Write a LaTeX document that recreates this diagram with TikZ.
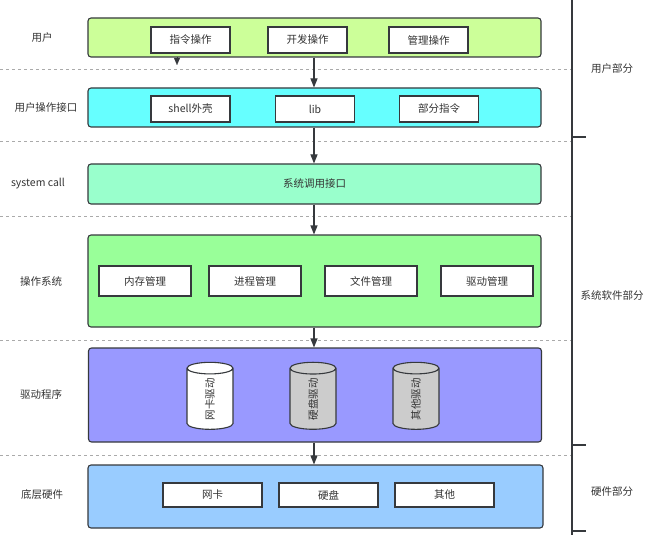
\documentclass[tikz,border=0pt]{standalone}
\usepackage{fontspec}
\setmainfont{Noto Sans CJK SC}
\usetikzlibrary{arrows.meta,shapes.geometric}
\definecolor{edge}{HTML}{36393D}
\definecolor{txt}{HTML}{333333}
\definecolor{cuser}{HTML}{CCFF99}
\definecolor{cui}{HTML}{66FFFF}
\definecolor{csys}{HTML}{99FFCC}
\definecolor{cos}{HTML}{99FF99}
\definecolor{cdrv}{HTML}{9999FF}
\definecolor{chw}{HTML}{99CCFF}
\definecolor{cgray}{HTML}{CCCCCC}
\definecolor{dash}{HTML}{AAAAAA}
\tikzset{
  fnt/.style={font=\fontsize{10.5}{12}\selectfont},
  layer/.style={draw=edge,line width=1.1pt,rounded corners=3pt,minimum width=453pt,inner sep=0pt},
  item/.style={draw=edge,line width=1.1pt,fill=white,minimum width=79pt,minimum height=26pt,inner sep=0pt,text=txt,fnt},
  lbl/.style={text=txt,fnt,inner sep=0pt},
  sep/.style={draw=dash,dashed,line width=0.7pt},
  flow/.style={draw=edge,line width=1.1pt,-{Triangle[length=9pt,width=7pt]}},
  drum/.style={cylinder,draw=edge,line width=1.1pt,shape border rotate=90,minimum width=46pt,minimum height=67pt,aspect=1.2,inner sep=0pt,text=txt,fnt},
  brace/.style={draw=edge,line width=1.1pt}
}
\begin{document}
\begin{tikzpicture}[x=1pt,y=-1pt]
\useasboundingbox (0,0) rectangle (649,535);
% separators
\foreach \yy in {69,141,216,340,455} \draw[sep] (0,\yy) -- (572,\yy);
% layers
\node[layer,fill=cuser,minimum height=39pt] (L1) at (314.5,37.5) {};
\node[layer,fill=cui,minimum height=39pt] (L2) at (314.5,107.5) {};
\node[layer,fill=csys,minimum height=40pt,text=txt,fnt] (L3) at (314.5,184) {系统调用接口};
\node[layer,fill=cos,minimum height=92pt] (L4) at (314.5,281) {};
\node[layer,fill=cdrv,minimum height=94pt] (L5) at (315,395) {};
\node[layer,fill=chw,minimum height=63pt,minimum width=455pt] (L6) at (315.5,496.5) {};
% items
\node[item] (a1) at (190.5,40) {指令操作};
\node[item] (a2) at (307.5,40) {开发操作};
\node[item] (a3) at (428.5,40) {管理操作};
\node[item] (b1) at (190.5,109) {shell外壳};
\node[item] (b2) at (315,109) {lib};
\node[item] (b3) at (439,109) {部分指令};
\node[item,minimum width=92pt,minimum height=30pt] (c1) at (145,281) {内存管理};
\node[item,minimum width=92pt,minimum height=30pt] (c2) at (255,281) {进程管理};
\node[item,minimum width=92pt,minimum height=30pt] (c3) at (371,281) {文件管理};
\node[item,minimum width=92pt,minimum height=30pt] (c4) at (487,281) {驱动管理};
\node[drum,fill=white] (d1) at (210,399) {\rotatebox{90}{网卡驱动}};
\node[drum,fill=cgray] (d2) at (313,399) {\rotatebox{90}{硬盘驱动}};
\node[drum,fill=cgray] (d3) at (416,399) {\rotatebox{90}{其他驱动}};
\node[item,minimum width=99pt,minimum height=24pt] (e1) at (212.5,495) {网卡};
\node[item,minimum width=99pt,minimum height=24pt] (e2) at (328.5,495) {硬盘};
\node[item,minimum width=99pt,minimum height=24pt] (e3) at (444.5,495) {其他};
% left labels
\node[lbl] (t1) at (42,38) {用户};
\node[lbl] (t2) at (46,108) {用户操作接口};
\node[lbl] (t3) at (38,184) {system call};
\node[lbl] (t4) at (41,281) {操作系统};
\node[lbl] (t5) at (41,394) {驱动程序};
\node[lbl] (t6) at (42,495) {底层硬件};
% right labels
\node[lbl] (r1) at (612,69) {用户部分};
\node[lbl] (r2) at (612,296) {系统软件部分};
\node[lbl] (r3) at (612,492) {硬件部分};
% arrows
\draw[flow] (L1.south -| 314,0) -- (L2.north -| 314,0);
\draw[flow] (L2.south -| 314,0) -- (L3.north -| 314,0);
\draw[flow] (L3.south -| 314,0) -- (L4.north -| 314,0);
\draw[flow] (L4.south -| 314,0) -- (L5.north -| 314,0);
\draw[flow] (L5.south -| 314,0) -- (L6.north -| 314,0);
% stray tip
\coordinate (s0) at (177,57);
\coordinate (s1) at (177,65);
\draw[draw=edge,line width=0.1pt,-{Triangle[length=7pt,width=6pt]}] (s0) -- (s1);
% bracket
\coordinate (v0) at (572,0);
\coordinate (v1) at (572,535);
\draw[brace] (v0) -- (v1);
\coordinate (k1) at (572,137); \coordinate (k1e) at (586,137);
\coordinate (k2) at (572,445); \coordinate (k2e) at (586,445);
\coordinate (k3) at (572,531); \coordinate (k3e) at (586,531);
\draw[brace] (k1) -- (k1e);
\draw[brace] (k2) -- (k2e);
\draw[brace] (k3) -- (k3e);
\end{tikzpicture}
\end{document}
